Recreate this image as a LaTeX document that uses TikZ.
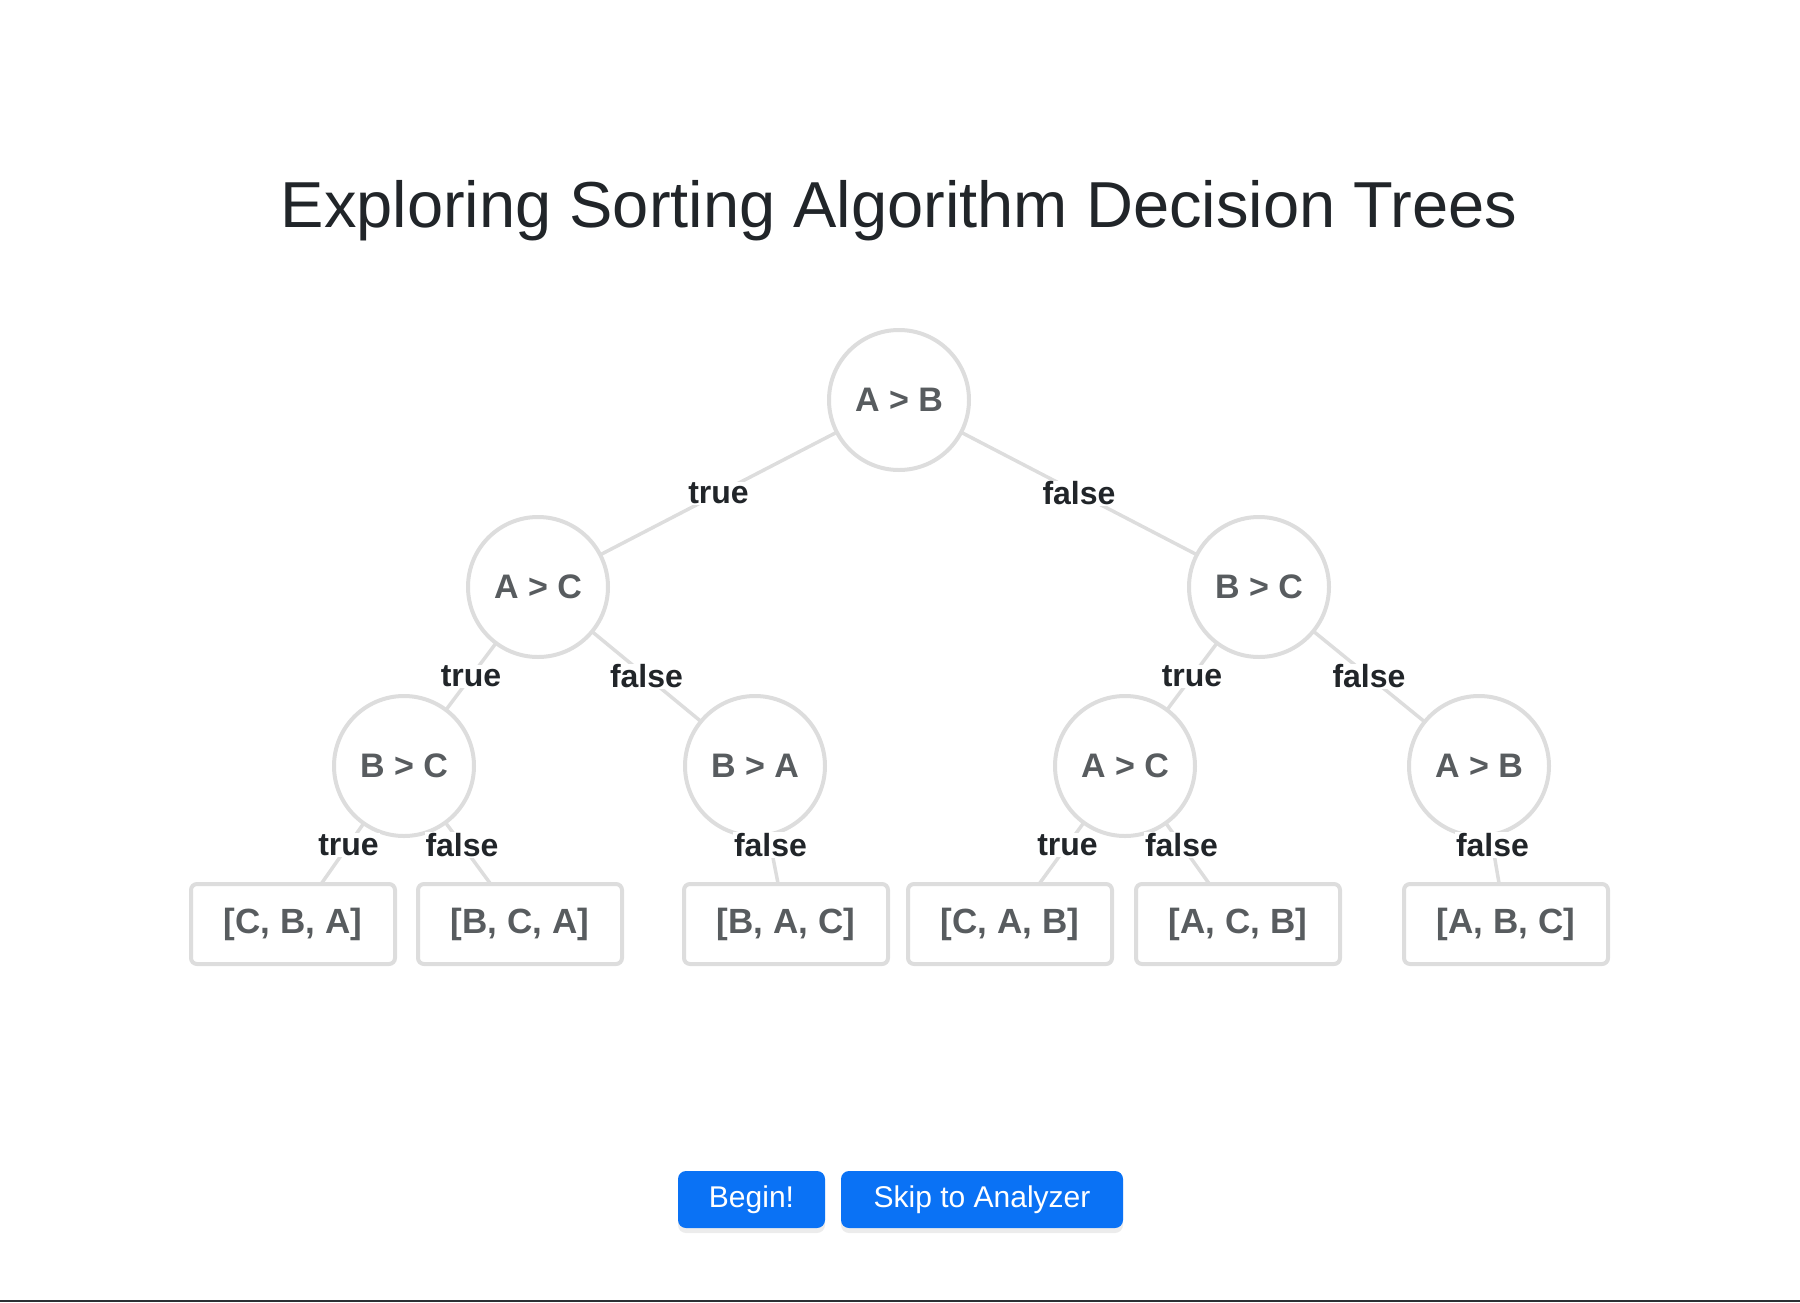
\documentclass[tikz,border=0pt]{standalone}
\usepackage{fontspec}
\setmainfont{Liberation Sans}
\usepackage{xcolor}
\usetikzlibrary{backgrounds,shadows}
\definecolor{btnblue}{HTML}{0A72F5}
\definecolor{inkgray}{HTML}{212529}
\definecolor{ringgray}{HTML}{DDDDDD}

\begin{document}
\begin{tikzpicture}[x=1pt,y=-1pt,
  decision/.style={circle,draw=ringgray,line width=4pt,fill=white,minimum size=140pt,inner sep=0pt,font=\bfseries\fontsize{34}{40}\selectfont,text=inkgray!75},
  outcome/.style={rounded corners=6pt,draw=ringgray,line width=4pt,fill=white,minimum width=204pt,minimum height=80pt,font=\bfseries\fontsize{35}{40}\selectfont,text=inkgray!75},
  branch/.style={draw=ringgray,line width=3.5pt},
  answer/.style={fill=white,inner sep=1pt,font=\bfseries\fontsize{32}{36}\selectfont,text=inkgray},
  button/.style={fill=btnblue,rounded corners=8pt,text=white,minimum height=57pt,inner sep=0pt,font=\fontsize{30}{34}\selectfont,drop shadow={opacity=0.15,shadow xshift=0pt,shadow yshift=-5pt}}]
  \useasboundingbox (0,0) rectangle (1800,1302);
  % title
  \node[anchor=base,text=inkgray,font=\fontsize{65}{78}\selectfont] (title) at (899,227) {Exploring Sorting Algorithm Decision Trees};
  % comparisons
  \node[decision] (ab) at (899,400) {A > B};
  \node[decision] (ac) at (538,587) {A > C};
  \node[decision] (bc) at (1259,587) {B > C};
  \node[decision] (bcl) at (404,766) {B > C};
  \node[decision] (ba) at (755,766) {B > A};
  \node[decision] (acr) at (1125,766) {A > C};
  \node[decision] (abr) at (1479,766) {A > B};
  % orderings
  \node[outcome] (cba) at (293,924) {[C, B, A]};
  \node[outcome] (bca) at (520,924) {[B, C, A]};
  \node[outcome] (bac) at (786,924) {[B, A, C]};
  \node[outcome] (cab) at (1010,924) {[C, A, B]};
  \node[outcome] (acb) at (1238,924) {[A, C, B]};
  \node[outcome] (abc) at (1506,924) {[A, B, C]};
  % branches behind the nodes, answers on top
  \begin{scope}[on background layer]
    \foreach \from/\to/\ans in {ab/ac/true,ab/bc/false,ac/bcl/true,ac/ba/false,bc/acr/true,bc/abr/false,
      bcl/cba/true,bcl/bca/false,ba/bac/false,acr/cab/true,acr/acb/false,abr/abc/false}
      \draw[branch] (\from.center) -- (\to.center);
  \end{scope}
  \foreach \from/\to/\ans in {ab/ac/true,ab/bc/false,ac/bcl/true,ac/ba/false,bc/acr/true,bc/abr/false,
    bcl/cba/true,bcl/bca/false,ba/bac/false,acr/cab/true,acr/acb/false,abr/abc/false}
    \path (\from.center) -- (\to.center) node[midway,answer] {\ans};
  % buttons
  \node[button,minimum width=147pt] (begin) at (751.5,1199.5) {Begin!};
  \node[button,minimum width=282pt] (skip) at (982,1199.5) {Skip to Analyzer};
  \fill[inkgray!95] (0,1300) rectangle (1800,1302);
\end{tikzpicture}
\end{document}
